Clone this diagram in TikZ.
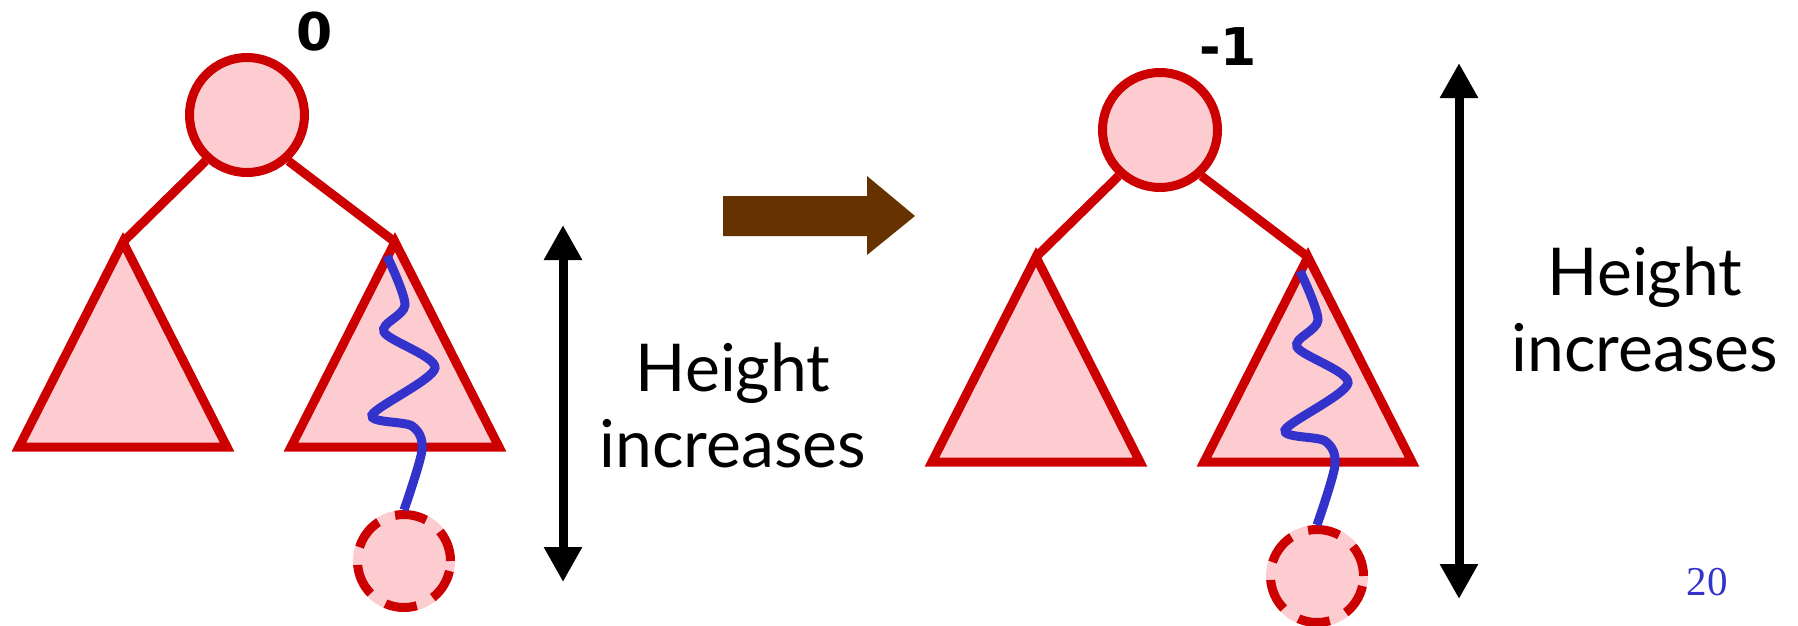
\documentclass[tikz,border=0pt]{standalone}
\usepackage{fontspec}
\setmainfont{Lato}
\newfontfamily\digfont{DejaVu Sans}
\newfontfamily\numfont{Liberation Serif}
\usetikzlibrary{arrows.meta}

\definecolor{treered}{RGB}{204,0,0}
\definecolor{treepink}{RGB}{252,204,208}
\definecolor{pathblue}{RGB}{51,51,204}
\definecolor{movebrown}{RGB}{102,51,0}

\tikzset{
  treenode/.style={circle,draw=treered,fill=treepink,line width=9pt,minimum size=115pt,inner sep=0pt},
  newnode/.style={circle,draw=treered,fill=treepink,line width=9pt,minimum size=93pt,inner sep=0pt,
    dash pattern=on 32pt off 18pt,preaction={draw=treepink,solid}},
  subtree/.style={draw=treered,fill=treepink,line width=9pt},
  treeedge/.style={draw=treered,line width=9pt},
  pathline/.style={draw=pathblue,line width=9pt},
  htarrow/.style={{Triangle[length=35pt,width=36pt]}-{Triangle[length=35pt,width=36pt]},line width=9pt},
  bal/.style={font=\digfont\bfseries\fontsize{52}{52}\selectfont,anchor=base,inner sep=0pt},
  httext/.style={font=\fontsize{66}{76}\selectfont,align=center,anchor=base,inner sep=0pt}
}

\begin{document}
\begin{tikzpicture}[x=1pt,y=-1pt]
\useasboundingbox (0,0) rectangle (1798,626);
% before and after the insertion
\foreach \t/\dx/\dy/\b in {L/0/0/0,R/913/15/-1}{
  \begin{scope}[shift={(\dx,\dy)}]
    \node[treenode] (root\t) at (247,115) {};
    \path (123,242) coordinate (lt\t) (395,242) coordinate (rt\t);
    \draw[treeedge] (root\t.228) -- (lt\t) (root\t.312) -- (rt\t);
    \draw[subtree] (lt\t) -- (19,447) -- (227,447) -- cycle;
    \draw[subtree] (rt\t) -- (291,447) -- (499,447) -- cycle;
    \node[newnode] (new\t) at (404,561) {};
    \draw[pathline] plot[smooth] coordinates {(387,256) (405,305) (384,332) (435,368) (372,415) (412,426) (422,450) (new\t.north)};
    \node[bal] (bal\t) at ([shift={(68,-64)}]root\t) {\b};
  \end{scope}
}

\fill[movebrown] (723,196) -- (867,196) -- (867,176) -- (915,216) -- (867,255) -- (867,236) -- (723,236) -- cycle;

\path (563,225) coordinate (upL) (563,582) coordinate (dnL)
      (1459,63) coordinate (upR) (1459,599) coordinate (dnR);
\draw[htarrow] (upL) -- (dnL);
\draw[htarrow] (upR) -- (dnR);
\node[httext] (htL) at (733,467) {Height\\increases};
\node[httext] (htR) at (1645,371) {Height\\increases};

\node[font=\numfont\fontsize{41}{41}\selectfont,text=pathblue,anchor=base,inner sep=0pt] (pageno) at (1707,595) {20};
\end{tikzpicture}
\end{document}
